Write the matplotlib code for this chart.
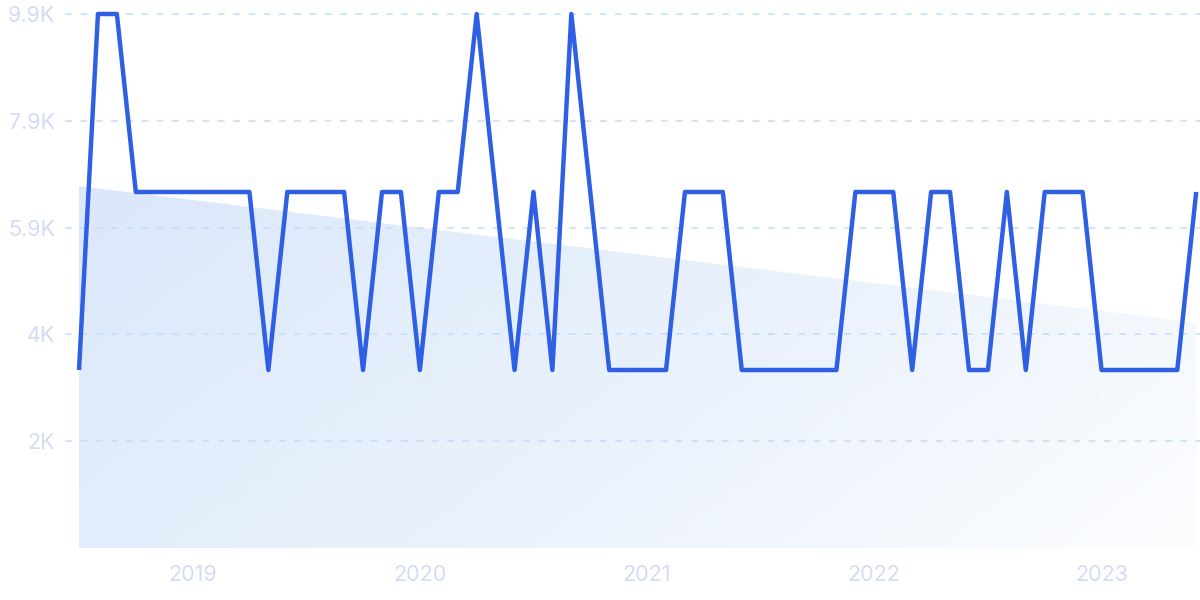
import numpy as np
import matplotlib
matplotlib.use("Agg")
import matplotlib.pyplot as plt
from matplotlib.patches import Polygon
from matplotlib.colors import LinearSegmentedColormap

# ---- data (monthly, Jul 2018 - Jun 2023) ----
months = [f"{y}-{m:02d}" for y in range(2018, 2024) for m in range(1, 13)][6:66]
values = [3300, 9900, 9900, 6600, 6600, 6600, 6600, 6600, 6600, 6600,
          3300, 6600, 6600, 6600, 6600, 3300, 6600, 6600, 3300, 6600,
          6600, 9900, 6600, 3300, 6600, 3300, 9900, 6600, 3300, 3300,
          3300, 3300, 6600, 6600, 6600, 3300, 3300, 3300, 3300, 3300,
          3300, 6600, 6600, 6600, 3300, 6600, 6600, 3300, 3300, 6600,
          3300, 6600, 6600, 6600, 3300, 3300, 3300, 3300, 3300, 6600]
year_labels = ["2019", "2020", "2021", "2022", "2023"]
ytick_values = [1980, 3960, 5940, 7920, 9900]
ytick_labels = ["2K", "4K", "5.9K", "7.9K", "9.9K"]

x = np.arange(len(values))
year_pos = [months.index(f"{y}-01") for y in year_labels]

LINE = "#2f5fe3"
TXT = "#d3dbf5"
GRID = "#c2dcfb"

fig = plt.figure(figsize=(12, 6), dpi=100)
ax = fig.add_axes([65 / 1200, 1 - 548 / 600, 1 - 65 / 1200, (548 - 14) / 600])
ax.set_xlim(-0.74, 59.2)
ax.set_ylim(0, 9900)

# trend-line fill with diagonal gradient
slope, intercept = np.polyfit(x, values, 1)
t0 = intercept
t1 = intercept + slope * x[-1]
poly = Polygon([(x[0], 0), (x[0], t0), (x[-1], t1), (x[-1], 0)],
               closed=True, facecolor="none", edgecolor="none")
ax.add_patch(poly)
nx, ny = 300, 150
gx = np.linspace(0, 1, nx)[None, :]
gy = np.linspace(0, 1, ny)[:, None]
grad = 0.7 * gx + 0.3 * gy  # 0 at top-left, 1 at bottom-right (origin upper)
cmap = LinearSegmentedColormap.from_list("g", ["#dbe8fa", "#e9f1fc", "#fcfdff"])
im = ax.imshow(grad, cmap=cmap, extent=(x[0], x[-1], 0, max(t0, t1)),
               origin="upper", aspect="auto", zorder=1, interpolation="bilinear")
im.set_clip_path(poly)

# grid
for v in ytick_values:
    ax.plot([-0.74, 59.2], [v, v], color=GRID, lw=1.1,
            linestyle=(0, (4.5, 5.5)), zorder=2, clip_on=False)

# line
ax.plot(x, values, color=LINE, lw=3.2, zorder=3, clip_on=False,
        solid_joinstyle="round", solid_capstyle="butt")

for s in ax.spines.values():
    s.set_visible(False)
ax.set_yticks(ytick_values)
ax.set_yticklabels(ytick_labels)
ax.set_xticks(year_pos)
ax.set_xticklabels(year_labels)
ax.tick_params(axis="both", length=0, colors=TXT, labelsize=15.5)
ax.tick_params(axis="y", pad=7)
ax.tick_params(axis="x", pad=12)
for lab in ax.get_xticklabels() + ax.get_yticklabels():
    lab.set_fontfamily("Inter")
    lab.set_color(TXT)

fig.savefig("out.png", dpi=100, facecolor="white")
